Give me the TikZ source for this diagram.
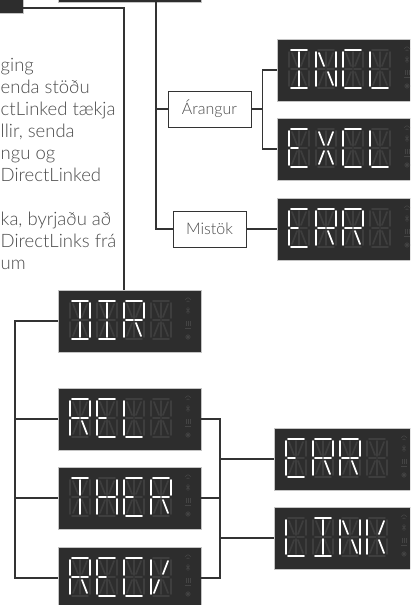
\documentclass[tikz,border=0pt]{standalone}
\usepackage{fontspec}
\setmainfont{Lato Light}
\usetikzlibrary{calc}
\definecolor{dispbg}{HTML}{2D2D2D}
\definecolor{dispedge}{HTML}{C4C4C4}
\definecolor{ghostc}{HTML}{3E3E3E}
\definecolor{iconc}{HTML}{444444}
\definecolor{wirec}{HTML}{333333}
\definecolor{textc}{HTML}{4A4A4A}

% segments lit for each letter
\newcommand\lcdI{a,d,i,l}
\newcommand\lcdN{b,c,e,f,h,m}
\newcommand\lcdC{a,d,e,f}
\newcommand\lcdL{d,e,f}
\newcommand\lcdE{a,d,e,f,g}
\newcommand\lcdX{h,j,k,m}
\newcommand\lcdR{a,b,e,f,g,gg,m}
\newcommand\lcdD{a,b,c,d,i,l}
\newcommand\lcdH{b,c,e,f,g,gg}
\newcommand\lcdT{a,i,l}
\newcommand\lcdV{e,f,j,k}
\newcommand\lcdK{e,f,j,m}

\tikzset{
  display/.style={fill=dispbg, draw=dispedge, line width=0.8pt, minimum width=143pt,
    minimum height=62pt, inner sep=0pt, outer sep=0pt},
  wire/.style={draw=wirec, line width=1.3pt},
  label box/.style={draw=wirec, line width=0.9pt, fill=white, minimum height=36pt,
    inner sep=0pt, text=textc, font=\fontsize{16}{18}\selectfont},
  bodytext/.style={text=textc, font=\fontsize{18.5}{22}\selectfont, inner sep=0pt},
  ghost/.style={color=ghostc, line width=1.7pt, line cap=round},
  lit/.style={color=white, line width=1.7pt, line cap=round},
  seg-a/.pic={\draw (2,0)--(18,0);},
  seg-b/.pic={\draw (20,2)--(20,17);},
  seg-c/.pic={\draw (20,21)--(20,36);},
  seg-d/.pic={\draw (2,38)--(18,38);},
  seg-e/.pic={\draw (0,21)--(0,36);},
  seg-f/.pic={\draw (0,2)--(0,17);},
  seg-g/.pic={\draw (2,19)--(9,19);},
  seg-gg/.pic={\draw (11,19)--(18,19);},
  seg-h/.pic={\draw (3,3)--(8,16);},
  seg-i/.pic={\draw (10,2)--(10,17);},
  seg-j/.pic={\draw (17,3)--(12,16);},
  seg-k/.pic={\draw (8,22)--(3,35);},
  seg-l/.pic={\draw (10,21)--(10,36);},
  seg-m/.pic={\draw (12,22)--(17,35);},
  lcdicons/.pic={
    \draw[iconc, line width=0.6pt] (127,10) .. controls (130,7) .. (133,10)
      (128.5,12) .. controls (130,10.5) .. (131.5,12);
    \draw[iconc, line width=0.6pt] (130,17)--(130,24) (128,18.5)--(132,22.5) (128,22.5)--(132,18.5);
    \draw[iconc, line width=0.6pt] (128,31)--(128,36) (130,31)--(130,36) (132,31)--(132,36) (127,38)--(133,38);
    \draw[iconc, line width=0.6pt] (127,47)--(133,47) (130,44)--(130,50) (128,45)--(132,49) (128,49)--(132,45);
  }
}

\newcommand\lcdword[2]{%
  \begin{scope}[shift={(#1.north west)}]
    \foreach \n in {0,...,3}
      \foreach \s in {a,b,c,d,e,f,g,gg,h,i,j,k,l,m}
        \pic[ghost] at (12+27*\n,11) {seg-\s};
    \foreach \c [count=\n from 0] in {#2} {
      \edef\seglist{\csname lcd\c\endcsname}
      \foreach \s in \seglist
        \pic[lit] at (12+27*\n,11) {seg-\s};
    }
    \pic at (0,0) {lcdicons};
  \end{scope}}

\begin{document}
\begin{tikzpicture}[x=1pt,y=-1pt]
  \useasboundingbox (0,0) rectangle (410,605);
  \clip (0,0) rectangle (410,605);

  \node[display, anchor=south east] (prevbox) at (23,13) {};
  \node[display, anchor=south east] (topbox) at (201,2) {};
  \node[display, anchor=north west] (incl) at (277,39) {};
  \node[display, anchor=north west] (excl) at (277,118) {};
  \node[display, anchor=north west] (err1) at (277,198) {};
  \node[label box, minimum width=83pt] (arangur) at (209.5,109) {Árangur};
  \node[label box, minimum width=73pt] (mistok) at (209.5,229) {Mistök};

  \node[display, anchor=north west] (dir) at (58,290) {};
  \node[display, anchor=north west] (rel) at (58,388) {};
  \node[display, anchor=north west] (ther) at (58,467) {};
  \node[display, anchor=north west] (recv) at (58,547) {};
  \node[display, anchor=north west] (err2) at (274,428) {};
  \node[display, anchor=north west] (link) at (274,507) {};

  \lcdword{incl}{I,N,C,L}
  \lcdword{excl}{E,X,C,L}
  \lcdword{err1}{E,R,R}
  \lcdword{dir}{D,I,R}
  \lcdword{rel}{R,E,L}
  \lcdword{ther}{T,H,E,R}
  \lcdword{recv}{R,E,C,V}
  \lcdword{err2}{E,R,R}
  \lcdword{link}{L,I,N,K}

  \foreach \t/\yb [count=\k] in {ging/71, {enda stöðu}/93, {ctLinked tækja}/115,
      {llir, senda}/137, {ngu og}/159, DirectLinked/181, {ka, byrjaðu að}/225,
      {DirectLinks frá}/247, um/269}
    \node[bodytext, anchor=base west] (txt\k) at (0.5,\yb) {\t};

  \coordinate (j1) at (124,8);
  \draw[wire] (prevbox.south east |- j1) -- (j1) -- (j1 |- dir.north);
  \coordinate (t1) at ($(topbox.south east)+(-45,0)$);
  \draw[wire] (t1) |- (arangur.west);
  \draw[wire] (t1) |- (mistok.west);
  \draw[wire] (arangur.east) -- ++(11,0) coordinate (f1);
  \draw[wire] (incl.west) -| (f1) |- (excl.west);
  \draw[wire] (mistok.east) -- (err1.west);

  \coordinate (b1) at (15,0);
  \draw[wire] (dir.west) -- (dir.west -| b1) -- (recv.west -| b1) -- (recv.west);
  \draw[wire] (rel.west) -- (rel.west -| b1);
  \draw[wire] (ther.west) -- (ther.west -| b1);
  \coordinate (b2) at (220,0);
  \draw[wire] (rel.east) -- (rel.east -| b2) -- (recv.east -| b2) -- (recv.east);
  \draw[wire] (ther.east) -- (ther.east -| b2);
  \draw[wire] (err2.west -| b2) -- (err2.west);
  \draw[wire] (link.west -| b2) -- (link.west);
\end{tikzpicture}
\end{document}
